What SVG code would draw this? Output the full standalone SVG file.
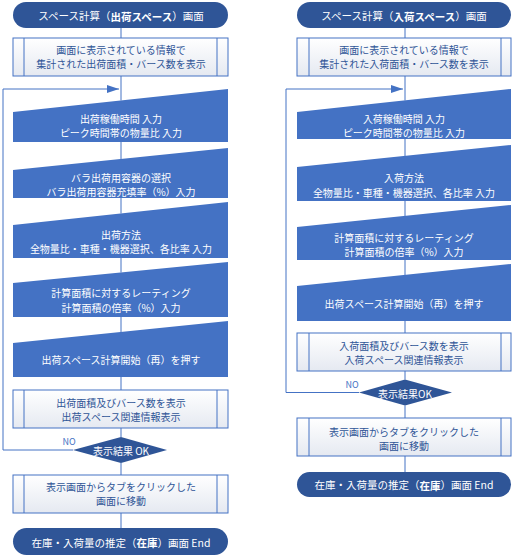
<svg xmlns="http://www.w3.org/2000/svg" width="514" height="557" viewBox="0 0 514 557">
<defs>
<linearGradient id="pg" x1="0" y1="0" x2="0" y2="1">
<stop offset="0" stop-color="#ffffff"/>
<stop offset="1" stop-color="#e5e9f1"/>
</linearGradient>
<marker id="ah" viewBox="0 0 12 8" refX="12" refY="4" markerWidth="12" markerHeight="8" markerUnits="userSpaceOnUse" orient="auto">
<path d="M0,0 L12,4 L0,8 Z" fill="#4472C4"/>
</marker>
<style>
text{font-family:"Noto Sans CJK JP","Noto Sans",sans-serif;font-size:10px;text-anchor:middle;dominant-baseline:central}
.term{fill:#2F5597}
.termt{fill:#ffffff;font-size:10.5px}
.box{fill:url(#pg);stroke:#4472C4;stroke-width:1}
.boxt{fill:#2F5597}
.man{fill:#4472C4}
.mant{fill:#ffffff}
.dia{fill:#2F5597}
.no{fill:#4472C4;font-size:9px}
.b{font-weight:bold}
.c{fill:none;stroke:#4472C4;stroke-width:1}
</style>
</defs>
<rect width="514" height="557" fill="#ffffff"/>

<g id="connectors">
<path class="c" d="M121,28 V38 M121,76 V100.5 M121,142 V159 M121,198 V213.5 M121,258 V272.5 M121,317 V332 M121,377 V390 M121,428 V437 M121,463 V475 M121,513 V528"/>
<path class="c" d="M73,450 H3 V89 H119" marker-end="url(#ah)"/>
<path class="c" d="M405,28 V38 M405,76 V100.5 M405,139 V156 M405,201 V216 M405,260 V275 M405,321 V333 M405,371 V379.5 M405,405.5 V418 M405,456 V472"/>
<path class="c" d="M359,392.5 H286 V89 H403" marker-end="url(#ah)"/>
</g>

<!-- Left column -->
<g id="L_start">
<rect class="term" x="13" y="2" width="215" height="26" rx="13"/>
<text class="termt" x="121" y="15.5">スペース計算（<tspan class="b">出荷スペース</tspan>）画面</text>
</g>
<g id="L_info">
<rect class="box" x="13" y="38" width="215" height="38"/>
<path class="c" d="M24,38 V76 M217,38 V76"/>
<text class="boxt" x="121" y="49.5">画面に表示されている情報で</text>
<text class="boxt" x="121" y="63.5">集計された出荷面積・バース数を表示</text>
</g>
<g id="L_in1">
<path class="man" d="M13,112 L228,89 L228,142 L13,142 Z"/>
<text class="mant" x="121" y="118">出荷稼働時間 入力</text>
<text class="mant" x="121" y="132">ピーク時間帯の物量比 入力</text>
</g>
<g id="L_in2">
<path class="man" d="M13,170 L228,148 L228,198 L13,198 Z"/>
<text class="mant" x="121" y="177">バラ出荷用容器の選択</text>
<text class="mant" x="121" y="191">バラ出荷用容器充填率（%）入力</text>
</g>
<g id="L_in3">
<path class="man" d="M13,225 L228,202 L228,258 L13,258 Z"/>
<text class="mant" x="121" y="234">出荷方法</text>
<text class="mant" x="121" y="248">全物量比・車種・機器選択、各比率 入力</text>
</g>
<g id="L_in4">
<path class="man" d="M13,283 L228,262 L228,317 L13,317 Z"/>
<text class="mant" x="121" y="292">計算面積に対するレーティング</text>
<text class="mant" x="121" y="307">計算面積の倍率（%）入力</text>
</g>
<g id="L_in5">
<path class="man" d="M13,343 L228,321 L228,377 L13,377 Z"/>
<text class="mant" x="121" y="359">出荷スペース計算開始（再）を押す</text>
</g>
<g id="L_result">
<rect class="box" x="13" y="390" width="215" height="38"/>
<path class="c" d="M24,390 V428 M217,390 V428"/>
<text class="boxt" x="121" y="402">出荷面積及びバース数を表示</text>
<text class="boxt" x="121" y="416">出荷スペース関連情報表示</text>
</g>
<g id="L_dec">
<path class="dia" d="M73,450 L121,437 L167,450 L121,463 Z"/>
<text class="mant" x="121" y="450">表示結果 OK</text>
<text class="no" x="69" y="441">NO</text>
</g>
<g id="L_move">
<rect class="box" x="13" y="475" width="215" height="38"/>
<path class="c" d="M24,475 V513 M217,475 V513"/>
<text class="boxt" x="121" y="486.5">表示画面からタブをクリックした</text>
<text class="boxt" x="121" y="500.5">画面に移動</text>
</g>
<g id="L_end">
<rect class="term" x="13" y="528" width="215" height="27" rx="13.5"/>
<text class="termt" x="121" y="542">在庫・入荷量の推定（<tspan class="b">在庫</tspan>）画面 End</text>
</g>

<!-- Right column -->
<g id="R_start">
<rect class="term" x="297" y="2" width="214" height="26" rx="13"/>
<text class="termt" x="404" y="15.5">スペース計算（<tspan class="b">入荷スペース</tspan>）画面</text>
</g>
<g id="R_info">
<rect class="box" x="297" y="38" width="214" height="38"/>
<path class="c" d="M309,38 V76 M501,38 V76"/>
<text class="boxt" x="404" y="49.5">画面に表示されている情報で</text>
<text class="boxt" x="404" y="63.5">集計された入荷面積・バース数を表示</text>
</g>
<g id="R_in1">
<path class="man" d="M297,112 L511,89 L511,139 L297,139 Z"/>
<text class="mant" x="404" y="118">入荷稼働時間 入力</text>
<text class="mant" x="404" y="132">ピーク時間帯の物量比 入力</text>
</g>
<g id="R_in2">
<path class="man" d="M297,167 L511,145 L511,201 L297,201 Z"/>
<text class="mant" x="404" y="177">入荷方法</text>
<text class="mant" x="404" y="192">全物量比・車種・機器選択、各比率 入力</text>
</g>
<g id="R_in3">
<path class="man" d="M297,227 L511,205 L511,260 L297,260 Z"/>
<text class="mant" x="404" y="237">計算面積に対するレーティング</text>
<text class="mant" x="404" y="251">計算面積の倍率（%）入力</text>
</g>
<g id="R_in4">
<path class="man" d="M297,286 L511,264 L511,321 L297,321 Z"/>
<text class="mant" x="404" y="303">出荷スペース計算開始（再）を押す</text>
</g>
<g id="R_result">
<rect class="box" x="297" y="333" width="214" height="38"/>
<path class="c" d="M309,333 V371 M501,333 V371"/>
<text class="boxt" x="404" y="345">入荷面積及びバース数を表示</text>
<text class="boxt" x="404" y="359">入荷スペース関連情報表示</text>
</g>
<g id="R_dec">
<path class="dia" d="M359,392.5 L405,379.5 L452,392.5 L405,405.5 Z"/>
<text class="mant" x="405" y="393">表示結果OK</text>
<text class="no" x="352" y="384">NO</text>
</g>
<g id="R_move">
<rect class="box" x="297" y="418" width="214" height="38"/>
<path class="c" d="M309,418 V456 M501,418 V456"/>
<text class="boxt" x="404" y="431">表示画面からタブをクリックした</text>
<text class="boxt" x="404" y="445">画面に移動</text>
</g>
<g id="R_end">
<rect class="term" x="297" y="472" width="214" height="25" rx="12.5"/>
<text class="termt" x="404" y="484.5">在庫・入荷量の推定（<tspan class="b">在庫</tspan>）画面 End</text>
</g>
</svg>
